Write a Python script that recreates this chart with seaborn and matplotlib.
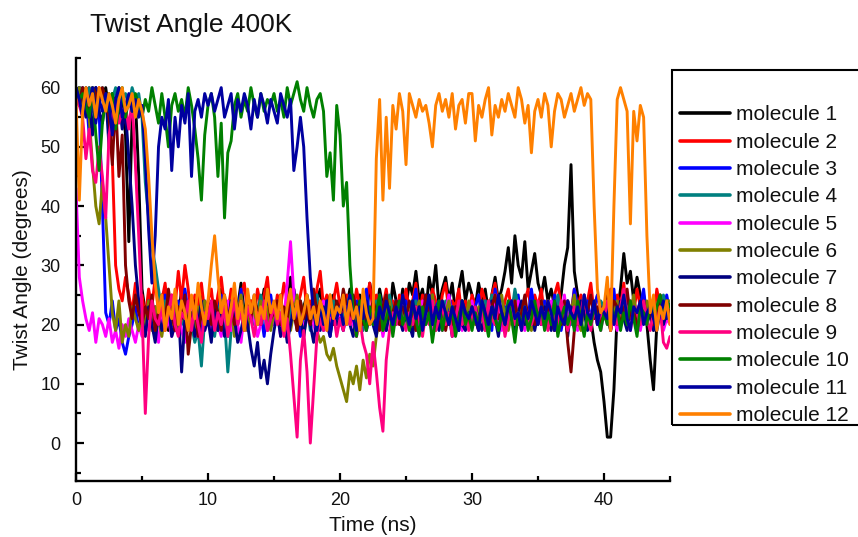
import numpy as np
import pandas as pd
import matplotlib
matplotlib.use("Agg")
import matplotlib.pyplot as plt
from matplotlib.lines import Line2D
from matplotlib.patches import Rectangle
from matplotlib.ticker import MultipleLocator
import seaborn as sns

# time axis: 0 .. 45 ns every 0.25 ns
time_ns = np.round(np.arange(181) * 0.25, 2)

molecule_1 = [59,60,58,60,59,57,60,59,58,60,56,59,57,60,58,52,34,55,58,45,
              26,22,24,21,23,20,25,22,19,23,24,21,26,22,20,24,21,23,25,20,
              22,24,19,23,26,21,22,25,20,23,27,22,19,24,21,23,22,26,20,24,
              21,23,25,20,22,28,21,24,19,23,25,22,20,24,26,21,23,20,25,22,
              24,21,23,26,22,20,25,23,21,27,24,22,26,23,25,21,27,24,22,26,
              23,27,25,29,24,26,22,28,25,30,23,26,28,24,27,22,26,29,24,27,
              25,23,27,24,26,22,25,28,24,26,29,33,27,35,30,28,34,26,29,32,
              27,25,28,24,26,23,22,25,30,33,47,29,25,23,24,22,21,17,14,12,
              7,1,1,9,22,26,32,27,29,24,28,25,22,20,14,9,20,23,21,24,
              22]
molecule_2 = [58,60,57,59,60,56,58,60,59,57,55,48,30,26,24,28,25,22,27,23,
              25,21,26,23,28,22,24,27,21,25,23,29,24,30,26,20,25,23,27,22,
              24,26,21,25,28,23,22,26,24,20,25,27,22,24,21,26,23,25,28,22,
              21,25,23,27,24,22,26,23,25,28,22,24,21,26,29,23,25,22,24,27,
              23,21,25,24,22,26,23,20,24,27,22,25,21,23,26,22,24,20,25,23,
              26,22,24,27,21,25,23,22,26,24,21,25,27,22,24,23,26,21,24,22,
              25,23,21,26,24,22,25,27,23,21,24,26,22,25,23,20,24,26,22,25,
              23,26,21,24,22,25,27,23,21,24,22,26,23,25,21,24,27,22,25,23,
              21,24,26,22,25,23,27,21,24,22,26,23,25,22,24,21,26,23,22,24,
              23]
molecule_3 = [57,60,55,59,52,58,60,56,40,22,20,24,19,21,17,15,18,20,23,19,
              22,19,24,21,18,23,20,25,22,19,21,24,20,26,22,19,23,21,18,24,
              20,23,19,22,25,21,18,24,20,22,26,19,23,21,24,20,22,18,23,25,
              21,24,20,22,19,23,26,21,18,22,24,20,23,25,21,19,24,22,20,23,
              22,25,20,23,21,24,19,22,26,21,23,20,25,22,19,23,21,24,22,20,
              24,21,23,26,20,22,25,21,19,23,24,22,20,25,22,23,19,24,21,22,
              20,23,25,21,24,22,19,26,22,20,23,21,24,22,25,20,23,21,26,22,
              23,20,24,22,21,25,23,19,22,24,21,26,23,20,22,24,21,23,25,22,
              21,24,22,26,20,23,21,25,22,24,20,23,26,21,22,24,20,23,22,25,
              22]
molecule_4 = [58,60,59,57,60,58,56,59,60,57,59,58,60,56,58,59,57,60,58,59,
              55,44,38,33,30,26,22,24,20,23,19,21,24,18,22,20,17,19,13,21,
              23,20,18,22,24,21,12,19,22,20,24,21,19,23,20,22,25,21,19,23,
              20,22,24,21,19,23,22,20,24,21,23,19,22,25,20,21,23,22,24,20,
              22,21,23,25,20,22,24,19,23,21,22,24,20,23,21,25,22,20,23,21,
              23,20,22,24,21,19,23,22,25,20,22,21,24,20,23,22,19,24,21,23,
              21,23,20,22,24,21,25,22,20,23,21,24,22,26,23,21,22,20,24,22,
              22,24,21,23,20,22,25,21,23,22,20,24,21,23,25,22,20,23,21,24,
              23,21,24,22,20,23,25,22,21,24,22,20,23,21,24,22,23,21,25,22,
              23]
molecule_5 = [43,28,24,21,19,22,17,21,20,18,21,17,19,16,20,18,21,19,17,20,
              18,21,19,22,20,17,23,19,21,18,20,22,19,17,21,23,20,18,22,19,
              21,19,23,20,18,22,24,19,21,20,17,22,19,23,21,18,20,22,19,21,
              20,22,18,21,27,34,25,20,22,19,21,23,20,18,22,24,19,21,20,23,
              21,19,22,24,20,18,23,21,19,22,24,20,22,18,21,23,19,22,20,24,
              22,20,23,19,21,24,20,22,18,23,21,19,22,25,20,21,23,19,22,20,
              24,21,19,22,20,23,21,25,22,19,21,23,20,22,24,21,19,22,23,20,
              21,23,20,22,24,19,22,21,25,20,23,21,19,22,24,20,22,21,23,19,
              22,20,24,21,19,23,22,20,24,21,23,19,22,21,24,20,23,22,19,21,
              20]
molecule_6 = [58,60,56,59,55,47,40,37,44,38,30,22,19,24,17,20,18,23,21,19,
              22,20,24,19,23,21,18,22,25,20,23,19,21,24,20,22,19,23,21,24,
              20,23,21,19,24,22,20,23,18,22,25,21,19,23,22,20,24,21,23,19,
              22,24,20,21,23,19,22,25,21,18,22,20,23,19,17,18,15,14,16,13,
              11,9,7,12,10,13,9,14,11,15,13,18,21,19,22,24,20,22,21,23,
              21,23,19,22,24,20,22,21,25,19,23,20,22,24,21,19,23,22,20,24,
              22,20,23,21,19,24,22,20,23,25,21,19,22,24,20,23,21,22,19,23,
              20,23,21,24,22,19,23,21,20,24,22,25,21,19,23,22,20,24,21,22,
              23,21,19,22,24,20,23,21,22,25,20,23,21,24,22,19,23,25,22,24,
              24]
molecule_7 = [59,57,60,55,58,52,60,56,54,59,50,57,55,58,53,56,48,40,30,24,
              21,18,23,20,17,22,19,21,24,18,20,23,12,21,19,22,18,20,24,19,
              21,17,23,19,22,18,20,24,21,17,19,22,20,16,13,17,11,14,10,15,
              19,22,18,21,17,20,23,19,21,18,22,20,17,21,19,23,20,18,22,20,
              21,19,23,20,18,22,21,24,19,22,20,18,23,21,19,22,20,24,21,19,
              22,20,18,23,21,19,22,24,20,21,19,23,20,22,18,21,23,20,19,22,
              20,23,21,19,22,20,24,21,18,22,20,23,21,19,22,24,20,21,23,19,
              22,20,23,21,19,24,21,20,22,18,23,21,20,24,22,19,21,23,20,22,
              21,23,19,22,20,24,21,19,23,22,20,21,24,20,22,19,23,21,20,22,
              21]
molecule_8 = [59,57,60,58,56,60,59,57,60,58,55,47,58,45,52,30,24,21,25,22,
              20,23,21,25,19,22,24,20,26,22,19,23,21,25,15,20,24,18,22,21,
              23,20,24,22,19,25,21,23,20,22,24,19,23,21,25,22,20,23,26,21,
              22,24,20,23,21,25,22,19,24,21,23,20,26,22,24,21,23,25,20,24,
              22,26,23,21,25,22,24,20,23,21,24,22,19,23,25,21,22,24,20,23,
              21,24,22,19,23,21,25,22,20,23,21,24,19,22,20,23,21,24,22,20,
              23,21,19,24,22,20,23,25,21,22,19,23,21,24,20,22,25,21,23,20,
              22,24,20,23,21,19,22,20,24,17,12,19,23,21,24,22,25,21,23,20,
              22,25,21,24,23,20,22,26,21,23,19,22,24,21,23,20,22,25,21,23,
              22]
molecule_9 = [60,57,55,48,53,46,44,50,45,38,52,55,58,54,56,57,53,58,47,35,
              22,5,18,24,21,20,23,19,22,25,20,18,22,21,24,19,23,20,17,22,
              21,24,19,22,20,23,18,21,24,20,22,19,23,21,18,22,20,24,19,21,
              23,20,22,18,21,15,8,1,14,19,12,0,9,18,21,19,23,20,22,18,
              21,19,23,20,22,18,21,17,15,10,17,12,6,2,14,19,22,20,23,21,
              19,22,20,23,21,18,22,20,24,19,21,23,20,22,18,21,24,20,22,19,
              21,23,20,22,19,24,21,20,23,22,18,21,24,20,22,19,23,21,20,22,
              24,20,22,19,23,21,20,24,22,19,21,23,20,22,25,21,19,23,20,22,
              21,24,19,22,20,23,26,21,19,23,22,20,24,21,19,22,20,23,17,16,
              18]
molecule_10 = [60,58,59,57,55,60,52,46,54,58,56,59,53,57,60,55,58,56,59,57,
               55,58,56,60,57,54,59,55,50,57,59,56,58,55,60,57,53,48,41,52,
               57,59,55,45,54,38,49,51,57,59,55,58,56,60,57,55,59,56,58,57,
               59,56,58,55,60,57,59,61,58,56,60,57,55,58,59,56,45,49,41,57,
               52,40,44,30,22,18,24,21,19,23,20,22,25,19,21,23,18,22,24,20,
               22,19,24,21,18,23,20,22,17,21,24,19,22,20,23,18,21,24,20,22,
               19,22,20,24,21,18,23,21,19,22,20,24,21,17,22,20,23,19,21,24,
               21,23,19,22,20,24,18,21,23,20,22,19,24,21,18,22,20,23,21,19,
               22,20,24,21,23,19,22,20,24,21,18,23,22,20,24,21,23,25,22,24,
               23]
molecule_11 = [60,58,55,59,57,60,54,58,56,59,57,52,58,60,55,57,59,56,58,55,
               57,48,36,27,35,50,55,53,58,46,55,50,57,54,59,45,56,58,55,59,
               57,59,56,58,60,55,57,59,53,58,56,59,57,53,58,55,59,57,54,58,
               56,54,59,57,55,58,46,50,55,50,38,28,22,19,23,20,24,18,22,21,
               23,20,22,25,21,19,23,21,24,20,22,19,23,21,24,22,20,23,21,25,
               22,20,24,21,23,19,22,25,20,23,21,24,22,20,23,21,19,24,22,21,
               23,21,19,24,22,20,23,21,25,22,20,23,24,21,22,19,23,21,24,22,
               20,23,21,24,22,19,23,21,20,24,22,21,23,20,25,22,21,24,20,23,
               22,21,24,20,23,22,25,21,19,23,22,24,20,22,23,21,19,22,24,21,
               22]
molecule_12 = [58,41,56,60,57,59,55,60,58,56,59,57,54,58,60,56,57,59,55,58,
               56,53,45,35,27,22,25,19,23,21,26,20,24,22,19,25,21,27,23,20,
               24,30,35,28,22,25,20,23,27,21,24,19,26,22,25,20,23,21,26,22,
               24,21,25,19,23,26,21,24,20,22,25,21,23,20,24,22,19,25,21,23,
               22,25,20,24,21,23,19,26,22,20,21,48,58,41,55,43,57,53,59,56,
               47,59,57,55,58,56,57,54,50,57,59,56,58,55,59,53,57,58,54,59,
               59,51,57,55,58,60,52,57,55,58,56,59,57,55,60,58,54,57,49,56,
               58,55,59,57,50,56,59,58,55,57,59,56,58,60,57,59,58,40,26,22,
               23,28,19,40,58,60,58,56,37,56,51,57,55,35,22,25,19,23,21,24,
               20]

names = [f"molecule {i}" for i in range(1, 13)]
series = [molecule_1, molecule_2, molecule_3, molecule_4, molecule_5, molecule_6,
          molecule_7, molecule_8, molecule_9, molecule_10, molecule_11, molecule_12]
colors = ["#000000", "#FF0000", "#0000FF", "#008080", "#FF00FF", "#808000",
          "#000080", "#800000", "#FF0080", "#008000", "#0000A0", "#FF8000"]

for s in series:
    assert len(s) == len(time_ns), len(s)

df = pd.concat([pd.DataFrame({"time": time_ns, "angle": s, "molecule": n})
                for n, s in zip(names, series)], ignore_index=True)

sns.set_theme(style="white")
plt.rcParams["font.family"] = ["Liberation Sans", "DejaVu Sans"]

fig = plt.figure(figsize=(8.58, 5.37), dpi=100)
ax = fig.add_axes([0.0886, 0.1043, 0.6923, 0.7877])

sns.lineplot(data=df, x="time", y="angle", hue="molecule", hue_order=names,
             palette=dict(zip(names, colors)), linewidth=2.1, legend=False,
             estimator=None, sort=False, ax=ax)

ax.set_xlim(0, 45)
ax.set_ylim(-6.4, 65)
ax.xaxis.set_major_locator(MultipleLocator(10))
ax.xaxis.set_minor_locator(MultipleLocator(5))
ax.yaxis.set_major_locator(MultipleLocator(10))
ax.yaxis.set_minor_locator(MultipleLocator(5))
ax.set_yticks([0, 10, 20, 30, 40, 50, 60])
ax.tick_params(which="both", bottom=True, left=True, top=False, right=False)
ax.tick_params(which="major", direction="in", length=6, width=1.6,
               color="black", labelsize=13, labelcolor="#111111")
ax.tick_params(which="minor", direction="in", length=3.5, width=1.6, color="black")
ax.tick_params(axis="y", which="major", pad=11)
ax.tick_params(axis="x", which="major", pad=8)
for sp in ["top", "right"]:
    ax.spines[sp].set_visible(False)
for sp in ["left", "bottom"]:
    ax.spines[sp].set_linewidth(1.7)
    ax.spines[sp].set_color("black")

ax.set_xlabel("Time (ns)", fontsize=15, labelpad=5, color="#111111")
ax.set_ylabel("Twist Angle (degrees)", fontsize=15, labelpad=6, color="#111111")

fig.text(0.105, 0.953, "Twist Angle 400K", fontsize=19, ha="left", va="center",
         color="#111111")

handles = [Line2D([0], [0], color=c, lw=2.6) for c in colors]
leg = ax.legend(handles, names, loc="upper left", bbox_to_anchor=(0.783, 0.870),
                bbox_transform=fig.transFigure, frameon=False, fontsize=15,
                handlelength=2.4, handletextpad=0.3, labelspacing=0.40,
                borderpad=0.4, borderaxespad=0, title=" ", title_fontsize=15)
for t in leg.get_texts():
    t.set_color("#111111")

# legend frame (extends past the right edge as in the reference)
fig.patches.append(Rectangle((0.7832, 0.2086), 0.2261, 0.6611,
                             transform=fig.transFigure, fill=False,
                             edgecolor="black", linewidth=1.5, zorder=5))

fig.savefig("out.png", dpi=100)
